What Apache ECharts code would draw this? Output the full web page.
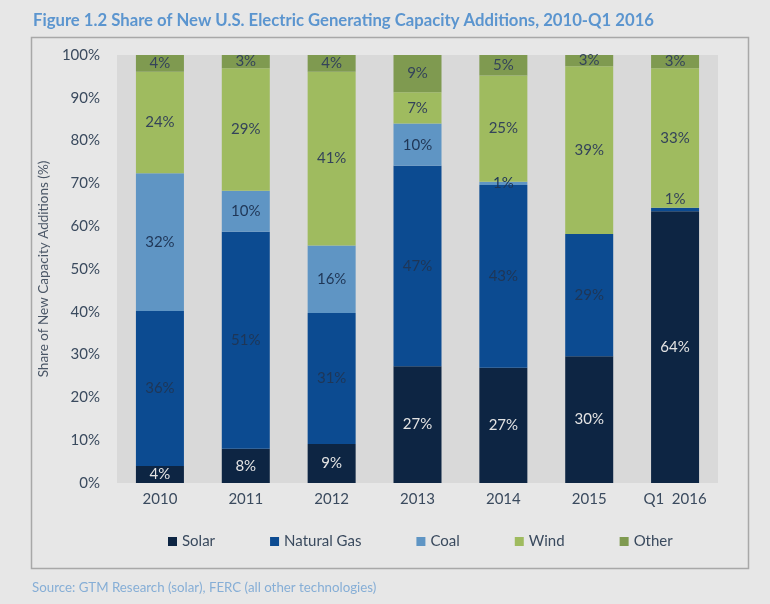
<!DOCTYPE html>
<html>
<head>
<meta charset="utf-8">
<script src="https://cdn.jsdelivr.net/npm/echarts@6/dist/echarts.min.js"></script>
<style>
html,body{margin:0;padding:0;background:#e7e7e7;}
#chart{width:770px;height:604px;}
</style>
</head>
<body>
<div id="chart"></div>
<script>
var categories = ['2010', '2011', '2012', '2013', '2014', '2015', 'Q1  2016'];
var solar      = [4.0, 8.0, 9.1, 27.3, 26.9, 29.6, 63.5];
var naturalGas = [36.2, 50.7, 30.6, 46.8, 42.7, 28.6, 0.8];
var coal       = [32.2, 9.6, 15.8, 9.9, 0.8, 0, 0];
var wind       = [23.7, 28.6, 40.6, 7.3, 24.8, 39.2, 32.6];
var other      = [3.9, 3.1, 3.9, 8.7, 4.8, 2.6, 3.1];
var yTicks = [0, 10, 20, 30, 40, 50, 60, 70, 80, 90, 100];

var FONT = 'Lato';
var chart = echarts.init(document.getElementById('chart'));

function fmt(p) {
  if (!p.value) return '';
  return Math.round(p.value) + '%';
}
function mk(name, data, color, labelColor) {
  return {
    name: name,
    type: 'bar',
    stack: 'total',
    barWidth: 48,
    data: data,
    itemStyle: { color: color },
    label: {
      show: true,
      position: 'inside',
      formatter: fmt,
      color: labelColor,
      fontFamily: FONT,
      fontSize: 15
    }
  };
}

var ngSeries = mk('Natural Gas', naturalGas.map(function (v, i) {
  if (i === 6) {
    return { value: v, label: { position: 'top', distance: 1, color: '#34435a' } };
  }
  return v;
}), '#0c4b91', '#1f3656');

var option = {
  backgroundColor: '#e7e7e7',
  animation: false,
  textStyle: { fontFamily: FONT },
  title: [{
    text: 'Figure 1.2 Share of New U.S. Electric Generating Capacity Additions, 2010-Q1 2016',
    left: 28, top: 7,
    textStyle: { fontFamily: FONT, fontSize: 16.7, fontWeight: 'bold', color: '#5b95cf' }
  }, {
    text: 'Source: GTM Research (solar), FERC (all other technologies)',
    left: 27, top: 576,
    textStyle: { fontFamily: FONT, fontSize: 13.3, fontWeight: 'normal', color: '#86aed6' }
  }],
  graphic: [{
    type: 'rect',
    shape: { x: 31.5, y: 37.5, width: 717, height: 531 },
    style: { fill: 'none', stroke: '#a8a8a8', lineWidth: 1.5 },
    silent: true
  }],
  grid: {
    left: 117, right: 52, top: 55, bottom: 121,
    show: true, backgroundColor: '#d9d9d9', borderWidth: 0
  },
  legend: {
    bottom: 50,
    left: 163,
    itemWidth: 9, itemHeight: 9, itemGap: 55,
    icon: 'rect',
    textStyle: { fontFamily: FONT, fontSize: 15, color: '#3a4a5e' },
    data: ['Solar', 'Natural Gas', 'Coal', 'Wind', 'Other']
  },
  xAxis: {
    type: 'category',
    data: categories,
    axisLine: { show: false },
    axisTick: { show: false },
    axisLabel: { fontFamily: FONT, fontSize: 15, color: '#3a4a5e', margin: 9 }
  },
  yAxis: {
    type: 'value',
    min: 0, max: 100, interval: 10,
    name: 'Share of New Capacity Additions (%)',
    nameLocation: 'middle',
    nameGap: 57,
    nameTextStyle: { fontFamily: FONT, fontSize: 13.5, color: '#4a5666' },
    splitLine: { show: false },
    axisLine: { show: false },
    axisTick: { show: false },
    axisLabel: {
      fontFamily: FONT, fontSize: 15, color: '#3a4a5e', margin: 17,
      formatter: function (v) { return yTicks.indexOf(v) >= 0 ? v + '%' : ''; }
    }
  },
  series: [
    mk('Solar', solar, '#0d2543', '#e4e4e4'),
    ngSeries,
    mk('Coal', coal, '#5f95c4', '#1f3656'),
    mk('Wind', wind, '#9fbb5f', '#34435a'),
    mk('Other', other, '#7f9a50', '#34435a')
  ]
};
chart.setOption(option);
</script>
</body>
</html>
